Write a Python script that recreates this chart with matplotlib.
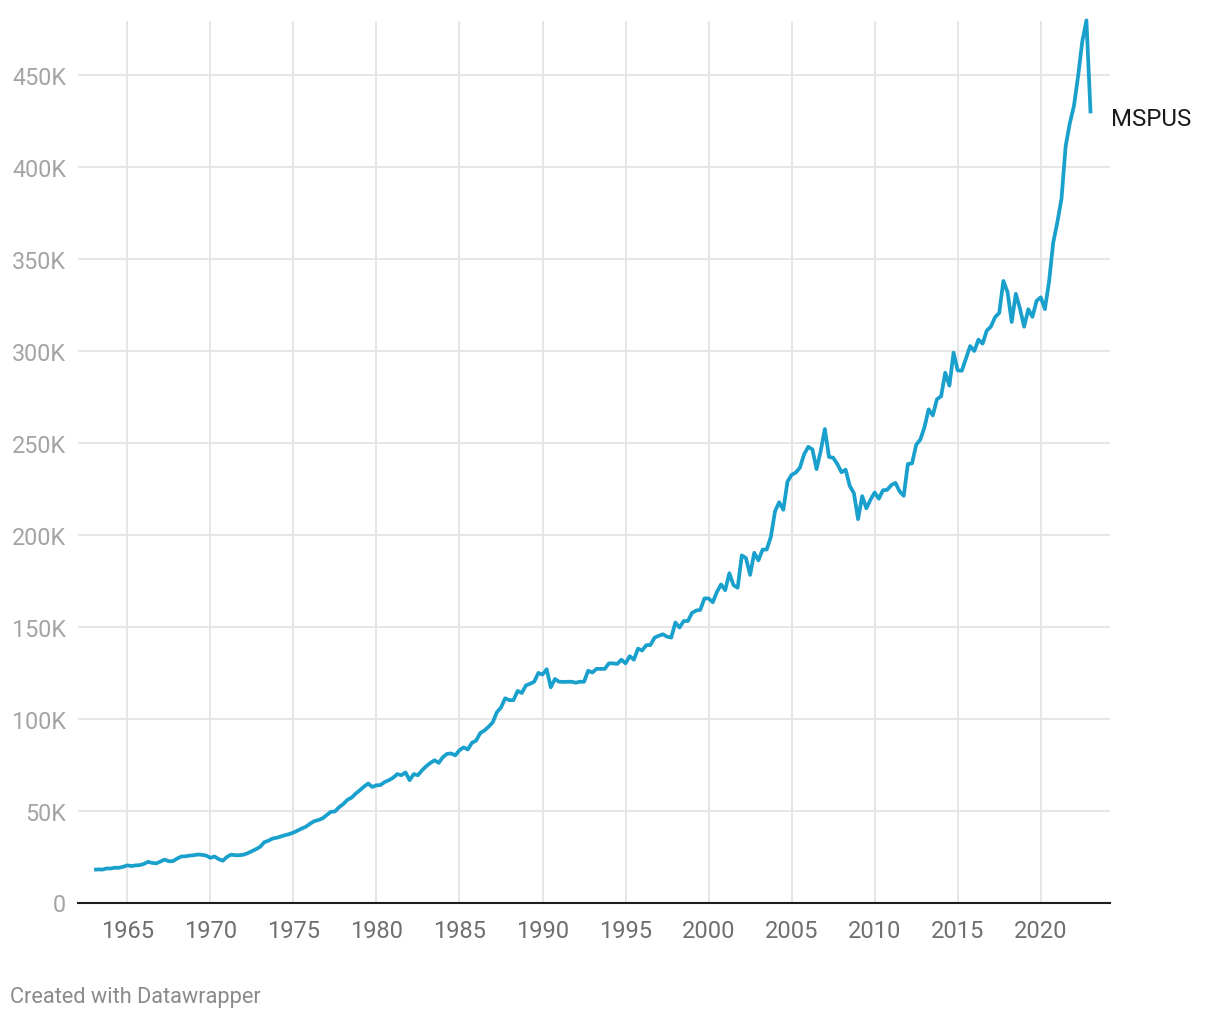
import matplotlib
matplotlib.use("Agg")
import matplotlib.pyplot as plt
import numpy as np

plt.rcParams['font.family'] = ['Roboto', 'DejaVu Sans']

# Quarterly median sales price of houses sold (MSPUS), 1963 Q1 - 2023 Q1
start_year = 1963
mspus = [
    17800, 18000, 17900, 18500,   # 1963
    18500, 18900, 18900, 19400,   # 1964
    20200, 19800, 20200, 20300,   # 1965
    21000, 22100, 21500, 21300,   # 1966
    22300, 23300, 22400, 22500,   # 1967
    23900, 25000, 25100, 25500,   # 1968
    25700, 26100, 25900, 25500,   # 1969
    24300, 25000, 23600, 22700,   # 1970
    24800, 26000, 25700, 25700,   # 1971
    26000, 26800, 27900, 29000,   # 1972
    30300, 32800, 33600, 34800,   # 1973
    35200, 35900, 36600, 37200,   # 1974
    38000, 39100, 40200, 41200,   # 1975
    42800, 44200, 44800, 45700,   # 1976
    47500, 49300, 49500, 51800,   # 1977
    53500, 55800, 57000, 59200,   # 1978
    61000, 63000, 64700, 62800,   # 1979
    63700, 63900, 65500, 66500,   # 1980
    67800, 69800, 69200, 70700,   # 1981
    66500, 69800, 69200, 71900,   # 1982
    74100, 75900, 77300, 75900,   # 1983
    79000, 80800, 81000, 80000,   # 1984
    82800, 84300, 83200, 86800,   # 1985
    88000, 92100, 93500, 95500,   # 1986
    97900, 103400, 106000, 111000,  # 1987
    110000, 110000, 115000, 113900,  # 1988
    118000, 118900, 120000, 124800,  # 1989
    123900, 126800, 117000, 121500,  # 1990
    120000, 119900, 120000, 120000,  # 1991
    119500, 120000, 120000, 126000,  # 1992
    125000, 127000, 127000, 127000,  # 1993
    130000, 130000, 129700, 132000,  # 1994
    130000, 133900, 132000, 138000,  # 1995
    137000, 139900, 140000, 144000,  # 1996
    145000, 145800, 144500, 144000,  # 1997
    152200, 149500, 153000, 153000,  # 1998
    157400, 158700, 159100, 165300,  # 1999
    165300, 163200, 168800, 172900,  # 2000
    169800, 179000, 172500, 171100,  # 2001
    188700, 187200, 178100, 190100,  # 2002
    186000, 191800, 191900, 198800,  # 2003
    212700, 217600, 213500, 228800,  # 2004
    232500, 233700, 236400, 243600,  # 2005
    247700, 246300, 235600, 245400,  # 2006
    257400, 242200, 241800, 238400,  # 2007
    233900, 235300, 226500, 222500,  # 2008
    208400, 220900, 214300, 219000,  # 2009
    222900, 219500, 224100, 224300,  # 2010
    226900, 228100, 223500, 221100,  # 2011
    238400, 238700, 248800, 251700,  # 2012
    258400, 268100, 264800, 273600,  # 2013
    275200, 288000, 281000, 298900,  # 2014
    289200, 289100, 295800, 302500,  # 2015
    299800, 306000, 303800, 310900,  # 2016
    313100, 318200, 320500, 337900,  # 2017
    331800, 315600, 330900, 322800,  # 2018
    313000, 322500, 318400, 327100,  # 2019
    329000, 322600, 337500, 358700,  # 2020
    369800, 382600, 411200, 423600,  # 2021
    433100, 449300, 468000, 479500,  # 2022
    429000,                          # 2023
]
series_name = "MSPUS"
x_ticks = [1965, 1970, 1975, 1980, 1985, 1990, 1995, 2000, 2005, 2010, 2015, 2020]
y_ticks = [0, 50000, 100000, 150000, 200000, 250000, 300000, 350000, 400000, 450000]
y_labels = ["0", "50K", "100K", "150K", "200K", "250K", "300K", "350K", "400K", "450K"]

t = start_year + np.arange(len(mspus)) / 4.0

W, H = 1220, 1020
fig = plt.figure(figsize=(W / 100, H / 100), dpi=100)
ax = fig.add_axes([78 / W, 1 - 903.5 / H, (1110 - 78) / W, (903.5 - 22) / H])

line_color = "#19a0cc"
ax.plot(t, mspus, color=line_color, lw=2.7, solid_joinstyle='round',
        solid_capstyle='butt', clip_on=False, zorder=3)

ax.set_xlim(1962.03, 2024.17)
ax.set_ylim(0, max(mspus) - 300)

ax.set_xticks(x_ticks)
ax.set_xticklabels([str(v) for v in x_ticks])
ax.set_yticks(y_ticks)
ax.set_yticklabels(y_labels)

ax.grid(True, color="#e4e4e4", lw=1.3, zorder=0)
ax.set_axisbelow(True)
for s in ax.spines.values():
    s.set_visible(False)
ax.axhline(0, color="#1e1e1e", lw=1.5, zorder=2, clip_on=False)

ax.tick_params(axis='both', length=0)
ax.tick_params(axis='x', labelsize=17, labelcolor="#6f6f6f", pad=12)
ax.tick_params(axis='y', labelsize=16.8, labelcolor="#a4a4a4", pad=8.5)

ax.annotate(series_name, xy=(t[-1], mspus[-1]), xytext=(20.5, -12),
            textcoords='offset pixels', ha='left', va='baseline',
            fontsize=17.3, color="#1a1a1a", annotation_clip=False)

fig.text(10 / W, 1 - 1003 / H, "Created with Datawrapper", ha='left',
         va='baseline', fontsize=15.7, color="#8a8a8a")

fig.savefig("out.png", dpi=100, facecolor="white")
